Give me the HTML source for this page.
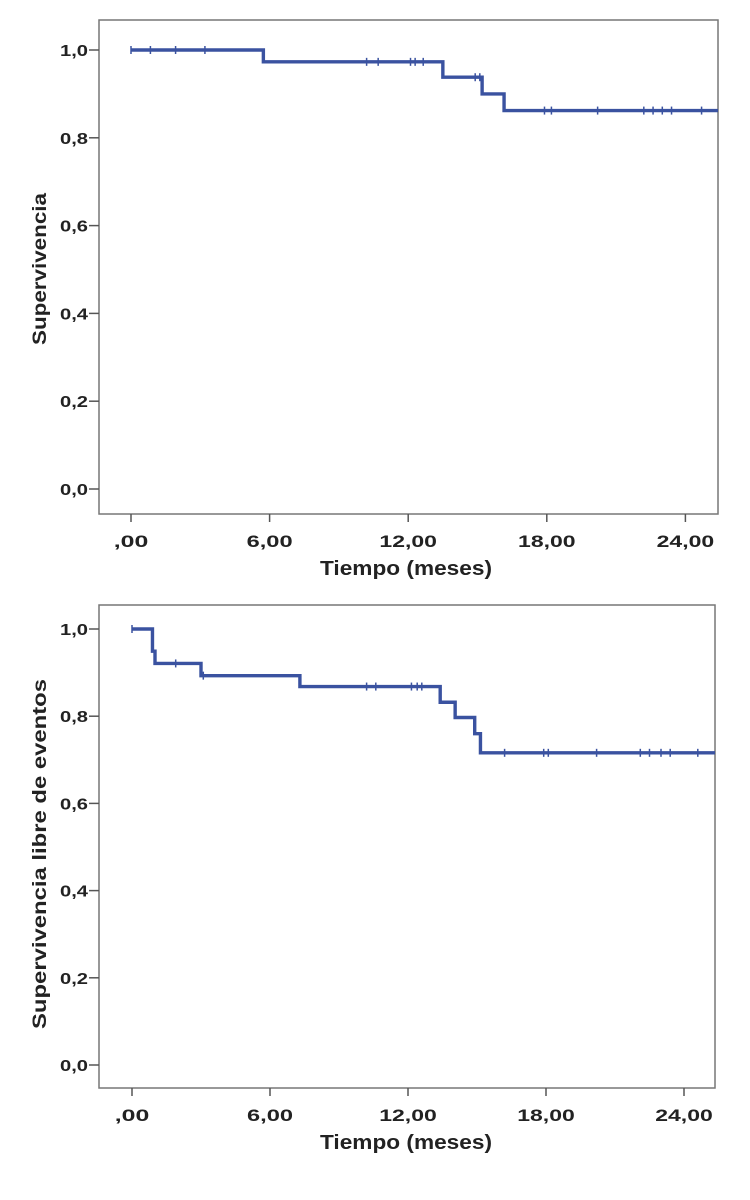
<!DOCTYPE html>
<html><head><meta charset="utf-8"><style>
html,body{margin:0;padding:0;background:#fff;}
svg{display:block;}
text{font-family:"Liberation Sans",sans-serif;fill:#222;}
</style></head><body>
<svg id="svg" width="750" height="1200" viewBox="0 0 750 1200"></svg>
<script>
// Top chart data
const topXTicks = [0, 6, 12, 18, 24];
const topXTickLabels = [",00", "6,00", "12,00", "18,00", "24,00"];
const yTicks = [0, 0.2, 0.4, 0.6, 0.8, 1.0];
const yTickLabels = ["0,0", "0,2", "0,4", "0,6", "0,8", "1,0"];
const topStepTimes = [0, 5.73, 13.5, 15.2, 16.15];
const topStepValues = [1.0, 0.973, 0.938, 0.900, 0.862];
const topCensorTimes = [0, 0.84, 1.93, 3.2, 10.2, 10.7, 12.1, 12.3, 12.65, 14.9, 15.1, 17.9, 18.2, 20.2, 22.2, 22.6, 23.0, 23.4, 24.7];
// Bottom chart data
const botStepTimes = [0, 0.89, 1.0, 3.0, 7.3, 13.4, 14.05, 14.9, 15.15];
const botStepValues = [1.0, 0.949, 0.921, 0.893, 0.868, 0.832, 0.797, 0.760, 0.716];
const botCensorTimes = [0, 1.9, 3.1, 10.2, 10.6, 12.15, 12.4, 12.6, 16.2, 17.9, 18.1, 20.2, 22.1, 22.5, 23.0, 23.4, 24.6];

const NS = "http://www.w3.org/2000/svg";
const svg = document.getElementById("svg");
function mk(tag, attrs, parent) {
  const e = document.createElementNS(NS, tag);
  for (const k in attrs) e.setAttribute(k, attrs[k]);
  (parent || svg).appendChild(e);
  return e;
}
function chart(cfg) {
  const g = mk("g", {});
  
  
  const xs = t => cfg.x0 + t * cfg.pxPerMonth;
  const ys = v => cfg.y0 - v * cfg.pxPerUnit;
  const frame = mk("rect", {x: cfg.left, y: cfg.top, width: cfg.right - cfg.left, height: cfg.bottom - cfg.top, fill: "none", stroke: "#777", "stroke-width": 1.5}, g);
  
  
  yTicks.forEach((v, i) => {
    const y = ys(v);
    const tk = mk("line", {x1: cfg.left - 10, x2: cfg.left, y1: y, y2: y, stroke: "#555", "stroke-width": 1.5}, g);
    
    
    const t = mk("text", {x: cfg.left - 11, y: y + 6, "text-anchor": "end", "font-size": 16, "font-weight": "bold", fill: "#333", textLength: 28, lengthAdjust: "spacingAndGlyphs"}, g);
    t.textContent = yTickLabels[i];
    
    
  });
  topXTicks.forEach((m, i) => {
    const x = xs(m);
    const tk = mk("line", {x1: x, x2: x, y1: cfg.bottom, y2: cfg.bottom + 8, stroke: "#555", "stroke-width": 1.5}, g);
    
    
    const lab = topXTickLabels[i];
    const t = mk("text", {x: x, y: cfg.bottom + 33, "text-anchor": "middle", "font-size": 17, "font-weight": "bold", fill: "#333", textLength: lab.length * 11.5, lengthAdjust: "spacingAndGlyphs"}, g);
    t.textContent = lab;
    
    
  });
  const xt = mk("text", {x: 406, y: cfg.bottom + 61, "text-anchor": "middle", "font-size": 20, "font-weight": "bold", textLength: 172, lengthAdjust: "spacingAndGlyphs"}, g);
  xt.textContent = "Tiempo (meses)";
  
  
  const cy = cfg.ytitleCenter;
  const yt = mk("text", {x: 46, y: cy, "text-anchor": "middle", "font-size": 19, "font-weight": "bold", textLength: cfg.ytitleLen, lengthAdjust: "spacingAndGlyphs", transform: "rotate(-90 46 " + cy + ")"}, g);
  yt.textContent = cfg.ytitle;
  
  
  let d = "M" + xs(cfg.times[0]) + "," + ys(cfg.values[0]);
  for (let i = 1; i < cfg.times.length; i++) {
    d += " H" + xs(cfg.times[i]) + " V" + ys(cfg.values[i]);
  }
  d += " H" + cfg.right;
  const p = mk("path", {d: d, fill: "none", stroke: "#3a52a0", "stroke-width": 3.4}, g);
  
  
  cfg.censors.forEach(t => {
    let v = cfg.values[0];
    for (let i = 0; i < cfg.times.length; i++) if (cfg.times[i] <= t) v = cfg.values[i];
    const x = xs(t), y = ys(v);
    const c = mk("line", {x1: x, x2: x, y1: y - 4, y2: y + 4, stroke: "#3a52a0", "stroke-width": 1.5}, g);
    
    
  });
}
chart({name: "survival-chart", left: 99, right: 718, top: 20, bottom: 514, x0: 131, pxPerMonth: 23.1, y0: 489, pxPerUnit: 439,
  times: topStepTimes, values: topStepValues, censors: topCensorTimes, ytitle: "Supervivencia", ytitleCenter: 269, ytitleLen: 152});
chart({name: "event-free-survival-chart", left: 99, right: 715, top: 605, bottom: 1088, x0: 132, pxPerMonth: 23.0, y0: 1065, pxPerUnit: 436,
  times: botStepTimes, values: botStepValues, censors: botCensorTimes, ytitle: "Supervivencia libre de eventos", ytitleCenter: 854, ytitleLen: 350});
</script>
</body></html>
